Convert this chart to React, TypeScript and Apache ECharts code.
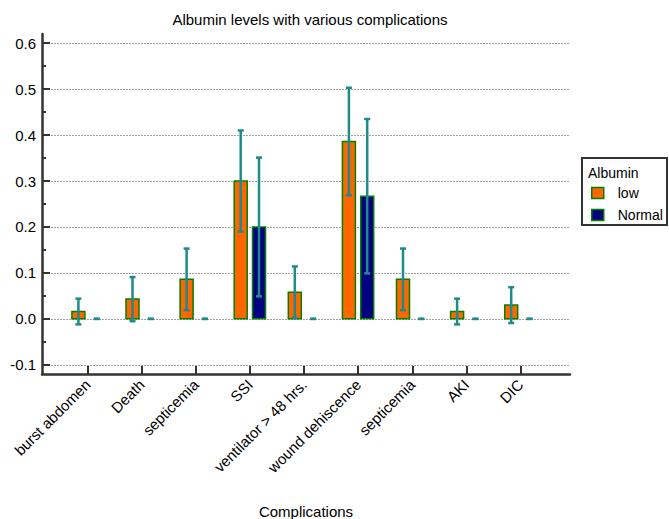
import { useEffect, useRef } from 'react';
import * as echarts from 'echarts';

const categories = [
  'burst abdomen',
  'Death',
  'septicemia',
  'SSI',
  'ventilator > 48 hrs.',
  'wound dehiscence',
  'septicemia',
  'AKI',
  'DIC',
];
const lowValues = [0.016, 0.043, 0.086, 0.3, 0.058, 0.386, 0.086, 0.016, 0.03];
const lowErrors = [0.028, 0.048, 0.067, 0.11, 0.056, 0.117, 0.067, 0.028, 0.039];
const normalValues = [0, 0, 0, 0.2, 0, 0.267, 0, 0, 0];
const normalErrors = [0, 0, 0, 0.151, 0, 0.168, 0, 0, 0];
const yTicks = [-0.1, 0, 0.1, 0.2, 0.3, 0.4, 0.5, 0.6];
const yMinorTicks = [-0.05, 0.05, 0.15, 0.25, 0.35, 0.45, 0.55];
const seriesNames = ['low', 'Normal'];
const legendTitle = 'Albumin';
const chartTitle = 'Albumin levels with various complications';
const xTitle = 'Complications';

const FONT = 'Liberation Sans, Arial, Helvetica, sans-serif';
const ORANGE = '#ff6600';
const NAVY = '#000080';
const GREEN = '#008000';
const TEAL = '#1f8a8a';
const AXIS = '#333333';

function makeRender(offset: number, fill: string) {
  return (params: any, api: any) => {
    const i = api.value(0);
    const v = api.value(1);
    const e = api.value(2);
    const base = api.coord([i, 0]);
    const top = api.coord([i, v]);
    const hi = api.coord([i, v + e]);
    const lo = api.coord([i, v - e]);
    const cx = base[0] + offset;
    const children: any[] = [];
    if (v > 0) {
      children.push({
        type: 'rect',
        shape: { x: cx - 6.5, y: top[1], width: 13, height: base[1] - top[1] },
        style: { fill, stroke: GREEN, lineWidth: 1.5 },
      });
    }
    const es = { stroke: TEAL, lineWidth: 2.5 };
    children.push({ type: 'line', shape: { x1: cx, y1: hi[1], x2: cx, y2: lo[1] }, style: es });
    children.push({ type: 'line', shape: { x1: cx - 3, y1: hi[1], x2: cx + 3, y2: hi[1] }, style: es });
    children.push({ type: 'line', shape: { x1: cx - 3, y1: lo[1], x2: cx + 3, y2: lo[1] }, style: es });
    return { type: 'group', children };
  };
}

export default function App() {
  const ref = useRef<HTMLDivElement>(null);
  useEffect(() => {
    const chart = echarts.init(ref.current as HTMLDivElement, null, { renderer: 'svg' });
    const idx = categories.map((_, i) => i);
    const option: any = {
      animation: false,
      backgroundColor: '#ffffff',
      textStyle: { fontFamily: FONT },
      grid: { left: 42, right: 99, top: 34, bottom: 145, containLabel: false },
      graphic: [
        {
          type: 'text',
          x: 310,
          y: 19,
          style: {
            text: chartTitle,
            font: '15px ' + FONT,
            fill: '#000',
            align: 'center',
            verticalAlign: 'middle',
            textAlign: 'center',
            textVerticalAlign: 'middle',
          },
        },
        {
          type: 'text',
          x: 306,
          y: 511,
          style: {
            text: xTitle,
            font: '15px ' + FONT,
            fill: '#000',
            align: 'center',
            verticalAlign: 'middle',
            textAlign: 'center',
            textVerticalAlign: 'middle',
          },
        },
        {
          type: 'rect',
          z: -1,
          shape: { x: 582, y: 158, width: 85, height: 67 },
          style: { fill: 'transparent', stroke: AXIS, lineWidth: 2 },
        },
        {
          type: 'text',
          x: 588,
          y: 173,
          style: {
            text: legendTitle,
            font: '14px ' + FONT,
            fill: '#000',
            verticalAlign: 'middle',
            textVerticalAlign: 'middle',
          },
        },
      ],
      legend: {
        data: [
          { name: seriesNames[0], itemStyle: { color: ORANGE, borderColor: GREEN, borderWidth: 1.5 } },
          { name: seriesNames[1], itemStyle: { color: NAVY, borderColor: GREEN, borderWidth: 1.5 } },
        ],
        orient: 'vertical',
        left: 591,
        top: 186,
        padding: 0,
        icon: 'rect',
        itemWidth: 12,
        itemHeight: 11,
        itemGap: 8,
        selectedMode: false,
        textStyle: { fontSize: 14, color: '#000', fontFamily: FONT, lineHeight: 11, padding: [0, 0, 0, 9] },
      },
      xAxis: {
        type: 'value',
        min: -0.845,
        max: 8.915,
        axisLine: { show: true, onZero: false, lineStyle: { color: AXIS, width: 2.5 } },
        axisTick: { show: true, inside: true, length: 8, customValues: idx, lineStyle: { color: AXIS, width: 2 } },
        axisLabel: {
          customValues: idx,
          rotate: 45,
          margin: 8,
          fontSize: 15,
          color: '#000',
          fontFamily: FONT,
          formatter: (v: number) => categories[Math.round(v)] ?? '',
        },
        splitLine: { show: false },
      },
      yAxis: [
        {
          type: 'value',
          position: 'left',
          min: -0.12,
          max: 0.62,
          axisLine: { show: true, onZero: false, lineStyle: { color: AXIS, width: 2.5 } },
          axisTick: { show: true, inside: true, length: 8, customValues: yTicks, lineStyle: { color: AXIS, width: 2 } },
          axisLabel: {
            customValues: yTicks,
            margin: 6,
            fontSize: 15,
            color: '#000',
            fontFamily: FONT,
            formatter: (v: number) => v.toFixed(1),
          },
          splitLine: { show: true, lineStyle: { color: '#a0a0a0', type: [2, 1], width: 1 } },
        },
        {
          type: 'value',
          position: 'left',
          min: -0.12,
          max: 0.62,
          axisLine: { show: false, onZero: false },
          axisTick: { show: true, inside: true, length: 4, customValues: yMinorTicks, lineStyle: { color: AXIS, width: 2 } },
          axisLabel: { show: false },
          splitLine: { show: false },
        },
      ],
      series: [
        {
          name: seriesNames[0],
          type: 'custom',
          itemStyle: { color: ORANGE, borderColor: GREEN },
          encode: { x: 0, y: 1 },
          data: idx.map((i) => [i, lowValues[i], lowErrors[i]]),
          renderItem: makeRender(-9.3, ORANGE),
          z: 3,
        },
        {
          name: seriesNames[1],
          type: 'custom',
          itemStyle: { color: NAVY, borderColor: GREEN },
          encode: { x: 0, y: 1 },
          data: idx.map((i) => [i, normalValues[i], normalErrors[i]]),
          renderItem: makeRender(9.0, NAVY),
          z: 3,
        },
      ],
    };
    chart.setOption(option);
    return () => chart.dispose();
  }, []);
  return <div ref={ref} style={{ position: 'fixed', left: 0, top: 0, width: 669, height: 519 }} />;
}
